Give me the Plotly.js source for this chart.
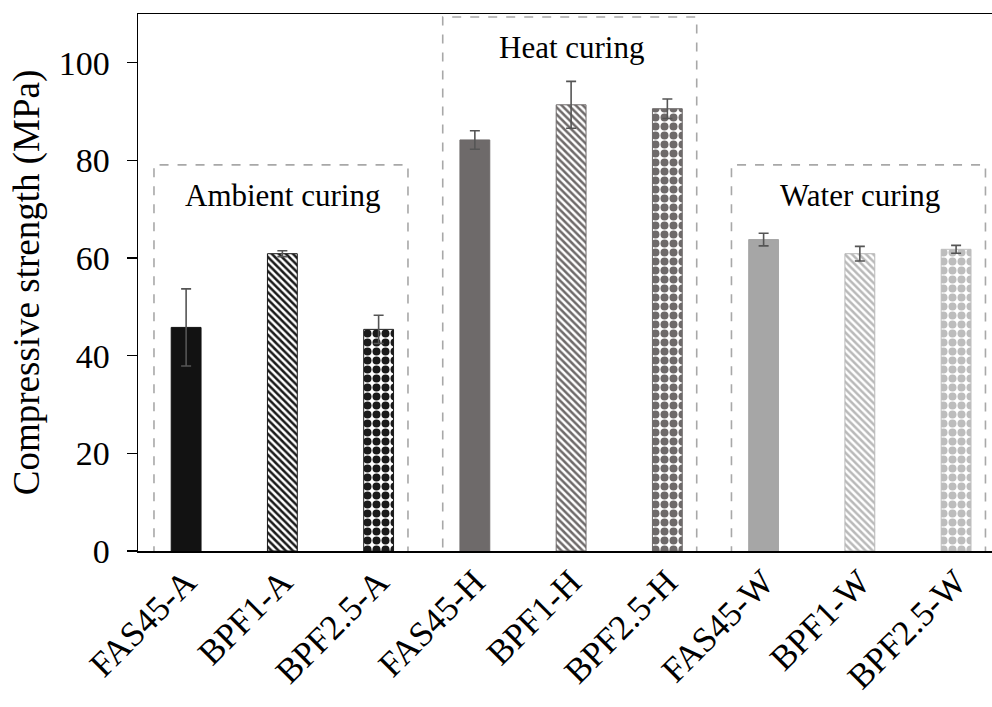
<!DOCTYPE html>
<html>
<head>
<meta charset="utf-8">
<script src="https://cdn.plot.ly/plotly-3.0.1.min.js"></script>
<style>
  html, body { margin: 0; padding: 0; background: #ffffff; overflow: hidden; }
  #chart { width: 992px; height: 707px; }
</style>
</head>
<body>
<div id="chart"></div>
<script>
// Mix designs, grouped by curing regime
const categories = ["FAS45-A", "BPF1-A", "BPF2.5-A",
                    "FAS45-H", "BPF1-H", "BPF2.5-H",
                    "FAS45-W", "BPF1-W", "BPF2.5-W"];
// Mean compressive strength (MPa)
const strength = [45.8, 60.9, 45.4, 84.2, 91.4, 90.6, 63.8, 60.9, 61.8];
// Standard deviation (MPa)
const stdev = [7.9, 0.6, 2.9, 1.9, 4.8, 2.0, 1.3, 1.5, 0.8];
// Curing regimes and the bars each one covers
const groupNames = ["Ambient curing", "Heat curing", "Water curing"];
const groupMembers = [[0, 1, 2], [3, 4, 5], [6, 7, 8]];
const yTicks = [0, 20, 40, 60, 80, 100];

// ---- styling ----
const FONT = "Liberation Serif, Times New Roman, serif";
// one tone per curing regime and mix
const mixTone = [
  ["#121212", "#1a1a1a", "#1a1a1a"],
  ["#6e6a6a", "#6e6a6a", "#6e6a6a"],
  ["#a6a6a6", "#b9b9b9", "#bdbdbd"]
];
// solid, diagonal hatch, packed spheres
const mixShape = ["", "\\", "."];
const mixSize = [8, 5, 9];
const mixSolidity = [0.3, 0.5, 0.62];

const barColor = [], patShape = [], patFg = [], patSize = [], patSolid = [], lineColor = [];
groupMembers.forEach((members, g) => {
  members.forEach((idx, m) => {
    barColor[idx] = mixTone[g][m];
    patShape[idx] = mixShape[m];
    patFg[idx] = mixTone[g][m];
    patSize[idx] = mixSize[m];
    patSolid[idx] = mixSolidity[m];
    lineColor[idx] = mixTone[g][m];
  });
});

const trace = {
  type: "bar",
  x: categories,
  y: strength,
  marker: {
    color: barColor,
    line: { color: lineColor, width: 1 },
    pattern: {
      shape: patShape,
      fgcolor: patFg,
      bgcolor: "#ffffff",
      size: patSize,
      solidity: patSolid,
      fillmode: "replace"
    }
  },
  error_y: {
    type: "data",
    array: stdev,
    visible: true,
    color: "#555555",
    thickness: 1.6,
    width: 5
  },
  hoverinfo: "x+y"
};

// dashed frames around each curing regime
const boxTop = [79.1, 109.4, 79.1];
const shapes = groupMembers.map((members, g) => ({
  type: "rect",
  xref: "x", yref: "y",
  x0: members[0] - 0.334,
  x1: members[members.length - 1] + 0.305,
  y0: -0.5,
  y1: boxTop[g],
  line: { color: "#a8a8a8", width: 1.6, dash: "dash" },
  fillcolor: "rgba(0,0,0,0)",
  layer: "above"
}));

const labelY = [72.8, 103.1, 72.8];
const annotations = groupMembers.map((members, g) => ({
  xref: "x", yref: "y",
  x: members[1],
  y: labelY[g],
  text: groupNames[g],
  showarrow: false,
  font: { family: FONT, size: 31, color: "#000000" },
  xanchor: "center",
  yanchor: "middle"
}));

const layout = {
  width: 992,
  height: 707,
  margin: { l: 138, r: 0, t: 14, b: 156 },
  paper_bgcolor: "#ffffff",
  plot_bgcolor: "#ffffff",
  showlegend: false,
  bargap: 0.69,
  font: { family: FONT, color: "#000000" },
  xaxis: {
    type: "category",
    range: [-0.5, 8.373],
    showline: true,
    linecolor: "#000000",
    linewidth: 1.5,
    mirror: true,
    ticks: "",
    tickangle: -45,
    ticklabelstandoff: -5,
    tickfont: { family: FONT, size: 35, color: "#000000" },
    showgrid: false,
    zeroline: false,
    fixedrange: true
  },
  yaxis: {
    range: [0, 110],
    tickvals: yTicks,
    showline: true,
    linecolor: "#000000",
    linewidth: 1.5,
    ticks: "outside",
    ticklen: 10,
    tickwidth: 1.3,
    tickcolor: "#000000",
    ticklabelstandoff: 10,
    tickfont: { family: FONT, size: 34, color: "#000000" },
    showgrid: false,
    zeroline: false,
    title: {
      text: "Compressive strength (MPa)",
      font: { family: FONT, size: 37, color: "#000000" },
      standoff: 8
    },
    fixedrange: true
  },
  shapes: shapes,
  annotations: annotations
};

Plotly.newPlot("chart", [trace], layout, { displayModeBar: false, staticPlot: true });
</script>
</body>
</html>
